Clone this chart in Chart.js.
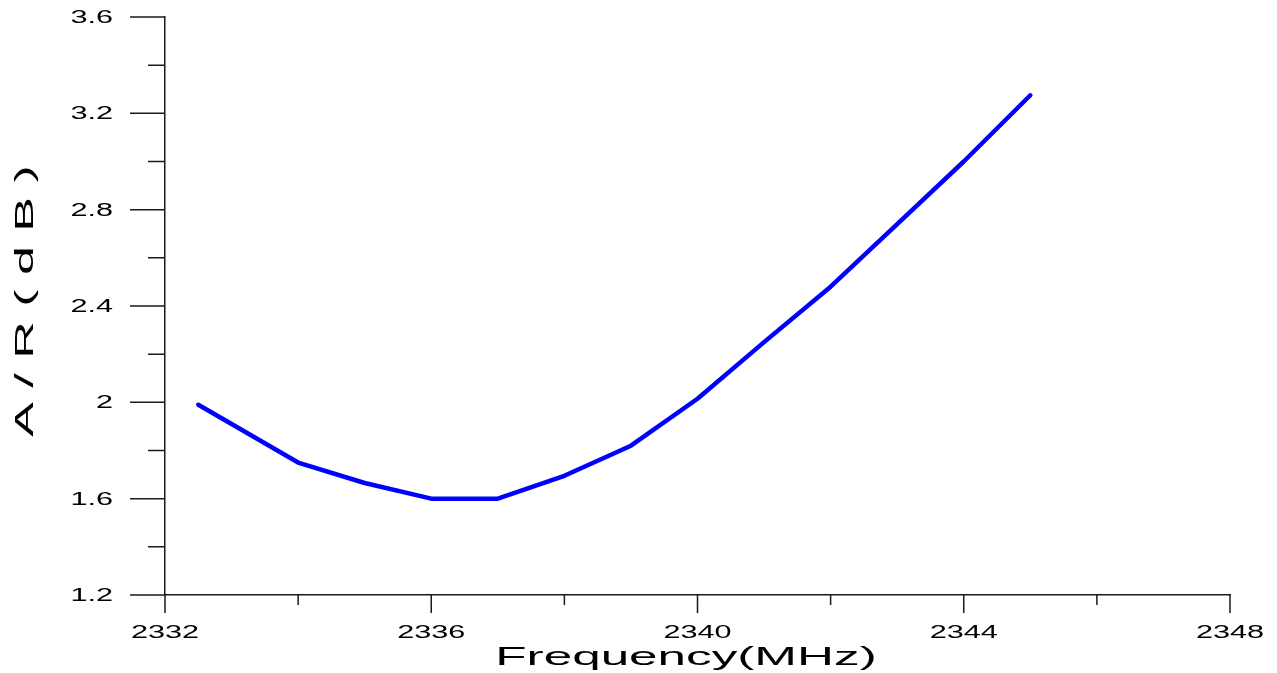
<!DOCTYPE html>
<html>
<head>
<meta charset="utf-8">
<script src="https://cdn.jsdelivr.net/npm/chart.js@4/dist/chart.umd.min.js"></script>
<style>
  html, body { margin: 0; padding: 0; background: #fff; }
  #wrap { width: 1277px; height: 673px; position: relative; }
</style>
</head>
<body>
<div id="wrap"><canvas id="arChart"></canvas></div>
<script>
  // ── Data ──
  var freq = [2332.5, 2334, 2335, 2336, 2337, 2338, 2339, 2340, 2341, 2342, 2343, 2344, 2345];
  var axialRatio = [1.99, 1.75, 1.665, 1.6, 1.6, 1.695, 1.82, 2.015, 2.25, 2.48, 2.74, 3.0, 3.275];

  var xMajor = [2332, 2336, 2340, 2344, 2348];
  var xMinor = [2334, 2338, 2342, 2346];
  var yMajor = [1.2, 1.6, 2, 2.4, 2.8, 3.2, 3.6];
  var yMinor = [1.4, 1.8, 2.2, 2.6, 3.0, 3.4];

  var xTitle = 'Frequency(MHz)';
  var yTitle = 'A / R ( d B )';

  var points = freq.map(function(f, i) { return { x: f, y: axialRatio[i] }; });

  var FONT = '"Liberation Sans", Arial, sans-serif';
  var AXIS = '#1a1a1a';

  // text drawn wide, like the original plotting software
  function wideText(ctx, text, x, y, sx, size, align, rot) {
    ctx.save();
    ctx.translate(x, y);
    if (rot) ctx.rotate(rot);
    ctx.scale(sx, 1);
    ctx.font = size + 'px ' + FONT;
    ctx.fillStyle = '#000';
    ctx.textAlign = align;
    ctx.textBaseline = 'alphabetic';
    ctx.fillText(text, 0, 0);
    ctx.restore();
  }

  var axesDecor = {
    id: 'axesDecor',
    afterDraw: function(chart) {
      var ctx = chart.ctx;
      var xs = chart.scales.x, ys = chart.scales.y;
      var left = chart.chartArea.left, bottom = chart.chartArea.bottom;

      ctx.save();
      ctx.strokeStyle = AXIS;
      ctx.lineWidth = 1.5;
      ctx.beginPath();
      yMajor.forEach(function(v) {
        var py = ys.getPixelForValue(v);
        ctx.moveTo(left - 35, py); ctx.lineTo(left, py);
      });
      yMinor.forEach(function(v) {
        var py = ys.getPixelForValue(v);
        ctx.moveTo(left - 17, py); ctx.lineTo(left, py);
      });
      xMajor.forEach(function(v) {
        var px = xs.getPixelForValue(v);
        ctx.moveTo(px, bottom); ctx.lineTo(px, bottom + 18);
      });
      xMinor.forEach(function(v) {
        var px = xs.getPixelForValue(v);
        ctx.moveTo(px, bottom); ctx.lineTo(px, bottom + 10);
      });
      ctx.stroke();
      ctx.restore();

      yMajor.forEach(function(v) {
        wideText(ctx, String(v), left - 52, ys.getPixelForValue(v) + 6, 1.75, 17.5, 'right');
      });
      xMajor.forEach(function(v) {
        wideText(ctx, String(v), xs.getPixelForValue(v), bottom + 43, 1.75, 17.5, 'center');
      });

      wideText(ctx, xTitle, 686, 665, 1.97, 26, 'center');
      wideText(ctx, yTitle, 33, 301, 2.08, 25, 'center', -Math.PI / 2);
    }
  };

  var ctx = document.getElementById('arChart').getContext('2d');
  var chart = new Chart(ctx, {
    type: 'line',
    data: {
      datasets: [{
        label: 'A/R',
        data: points,
        borderColor: '#0000ff',
        borderWidth: 4.5,
        borderCapStyle: 'round',
        borderJoinStyle: 'round',
        pointRadius: 0,
        tension: 0,
        fill: false
      }]
    },
    options: {
      responsive: true,
      maintainAspectRatio: false,
      animation: false,
      layout: { padding: { left: 165, right: 47, top: 17, bottom: 78 } },
      plugins: {
        legend: { display: false },
        tooltip: { enabled: false }
      },
      scales: {
        x: {
          type: 'linear',
          min: 2332,
          max: 2348,
          grid: { display: false, drawTicks: false },
          ticks: { display: false },
          border: { display: true, color: AXIS, width: 1.5 }
        },
        y: {
          min: 1.2,
          max: 3.6,
          grid: { display: false, drawTicks: false },
          ticks: { display: false },
          border: { display: true, color: AXIS, width: 1.5 }
        }
      }
    },
    plugins: [axesDecor]
  });
</script>
</body>
</html>
